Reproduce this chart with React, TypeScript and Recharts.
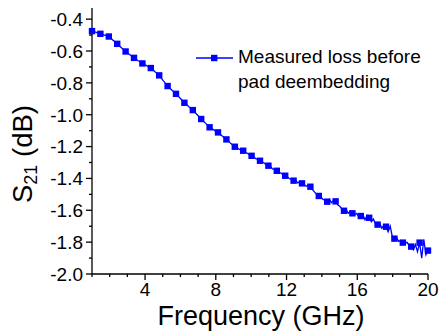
import { LineChart, Line, XAxis, YAxis } from 'recharts';

// frequency sweep, GHz (evenly spaced VNA points)
const FREQ_START = 1;
const FREQ_STOP = 20;

// S21 in dB; a marker sits on every 4th point
const lossDb = [
  -0.475, -0.479, -0.483, -0.488,
  -0.492, -0.496, -0.5, -0.504,
  -0.509, -0.52, -0.532, -0.544,
  -0.555, -0.567, -0.579, -0.591,
  -0.603, -0.613, -0.623, -0.633,
  -0.643, -0.652, -0.661, -0.669,
  -0.678, -0.685, -0.692, -0.7,
  -0.707, -0.718, -0.73, -0.741,
  -0.753, -0.77, -0.787, -0.803,
  -0.82, -0.832, -0.845, -0.857,
  -0.869, -0.883, -0.897, -0.911,
  -0.925, -0.936, -0.948, -0.959,
  -0.971, -0.985, -0.999, -1.013,
  -1.027, -1.04, -1.053, -1.066,
  -1.079, -1.087, -1.095, -1.103,
  -1.111, -1.122, -1.133, -1.144,
  -1.155, -1.166, -1.18, -1.19,
  -1.201, -1.205, -1.216, -1.221,
  -1.226, -1.236, -1.242, -1.252,
  -1.258, -1.264, -1.276, -1.281,
  -1.289, -1.298, -1.303, -1.315,
  -1.32, -1.326, -1.34, -1.344,
  -1.352, -1.362, -1.366, -1.378,
  -1.383, -1.389, -1.402, -1.404,
  -1.414, -1.412, -1.428, -1.42,
  -1.431, -1.438, -1.449, -1.441,
  -1.452, -1.47, -1.486, -1.5,
  -1.51, -1.517, -1.532, -1.537,
  -1.546, -1.53, -1.552, -1.538,
  -1.544, -1.566, -1.575, -1.592,
  -1.603, -1.596, -1.618, -1.607,
  -1.619, -1.628, -1.62, -1.64,
  -1.636, -1.626, -1.66, -1.632,
  -1.647, -1.672, -1.655, -1.686,
  -1.69, -1.682, -1.712, -1.695,
  -1.703, -1.735, -1.7, -1.765,
  -1.778, -1.77, -1.795, -1.79,
  -1.803, -1.812, -1.8, -1.822,
  -1.828, -1.848, -1.815, -1.86,
  -1.803, -1.9, -1.782, -1.88,
  -1.853,
];

const MARKER_EVERY = 4;

const xTicks = [1, 2, 3, 4, 5, 6, 7, 8, 9, 10, 11, 12, 13, 14, 15, 16, 17, 18, 19, 20];
const xLabeled = [4, 8, 12, 16, 20];
const yTicks = [-2.0, -1.9, -1.8, -1.7, -1.6, -1.5, -1.4, -1.3, -1.2, -1.1, -1.0, -0.9, -0.8, -0.7, -0.6, -0.5, -0.4];

const legendLines = ['Measured loss before', 'pad deembedding'];

const step = (FREQ_STOP - FREQ_START) / (lossDb.length - 1);
const data = lossDb.map((v, i) => ({ f: FREQ_START + i * step, s21: v }));

const FONT = '"Liberation Sans", Arial, sans-serif';
const BLUE = '#0000ff';

function XTick(props: any) {
  const { x, y, payload } = props;
  const major = xLabeled.includes(payload.value);
  return (
    <g>
      <line x1={x} x2={x} y1={y} y2={y + (major ? 6 : 3)} stroke="#000" strokeWidth={1.3} />
      {major && (
        <text x={x} y={y + 21.5} textAnchor="middle" fontSize={19} fontFamily={FONT} fill="#000">
          {payload.value}
        </text>
      )}
    </g>
  );
}

function YTick(props: any) {
  const { x, y, payload } = props;
  const major = Math.round(payload.value * 10) % 2 === 0;
  return (
    <g>
      <line x1={x - (major ? 6 : 3)} x2={x} y1={y} y2={y} stroke="#000" strokeWidth={1.3} />
      {major && (
        <text x={x - 9} y={y} dy="0.36em" textAnchor="end" fontSize={19} fontFamily={FONT} fill="#000">
          {payload.value.toFixed(1)}
        </text>
      )}
    </g>
  );
}

function Marker(props: any) {
  const { cx, cy, index } = props;
  if (index % MARKER_EVERY !== 0) return <g key={index} />;
  return <rect key={index} x={cx - 3.2} y={cy - 3.2} width={6.4} height={6.4} fill={BLUE} />;
}

function XTitle() {
  return (
    <text x={261} y={324.5} textAnchor="middle" fontSize={27} fontFamily={FONT} fill="#000">
      Frequency (GHz)
    </text>
  );
}

function YTitle() {
  return (
    <text
      x={32}
      y={154}
      transform="rotate(-90 32 154)"
      textAnchor="middle"
      fontSize={27.5}
      fontFamily={FONT}
      fill="#000"
    >
      S<tspan fontSize={18} dy={5}>21</tspan>
      <tspan dy={-5}> (dB)</tspan>
    </text>
  );
}

function LegendBox() {
  return (
    <div
      style={{
        position: 'absolute',
        left: 196,
        top: 44,
        display: 'flex',
        fontFamily: FONT,
        fontSize: 19,
        lineHeight: '25px',
        color: '#000',
      }}
    >
      <svg width={42} height={25} style={{ flex: 'none' }}>
        <line x1={0} x2={37} y1={14} y2={14} stroke={BLUE} strokeWidth={1.3} />
        <rect x={15} y={10.8} width={6.4} height={6.4} fill={BLUE} />
      </svg>
      <div>
        {legendLines.map((t) => (
          <div key={t} style={{ whiteSpace: 'nowrap' }}>{t}</div>
        ))}
      </div>
    </div>
  );
}

export default function App() {
  return (
    <div style={{ position: 'absolute', left: 0, top: 0, width: 440, height: 332, background: '#fff' }}>
      <LineChart width={440} height={332} data={data} margin={{ top: 8, right: 12, left: 0, bottom: 0 }}>
        <XAxis
          dataKey="f"
          type="number"
          domain={[FREQ_START, FREQ_STOP]}
          ticks={xTicks}
          interval={0}
          height={58}
          tickSize={0}
          tickMargin={0}
          tickLine={false}
          stroke="#000"
          strokeWidth={1.3}
          tick={<XTick />}
          label={<XTitle />}
        />
        <YAxis
          type="number"
          domain={[-2.0, -0.33]}
          ticks={yTicks}
          interval={0}
          width={92}
          tickSize={0}
          tickMargin={0}
          tickLine={false}
          stroke="#000"
          strokeWidth={1.3}
          allowDataOverflow
          tick={<YTick />}
          label={<YTitle />}
        />
        <Line
          dataKey="s21"
          type="linear"
          stroke={BLUE}
          strokeWidth={1.3}
          dot={<Marker />}
          activeDot={false}
          isAnimationActive={false}
        />
      </LineChart>
      <LegendBox />
    </div>
  );
}
